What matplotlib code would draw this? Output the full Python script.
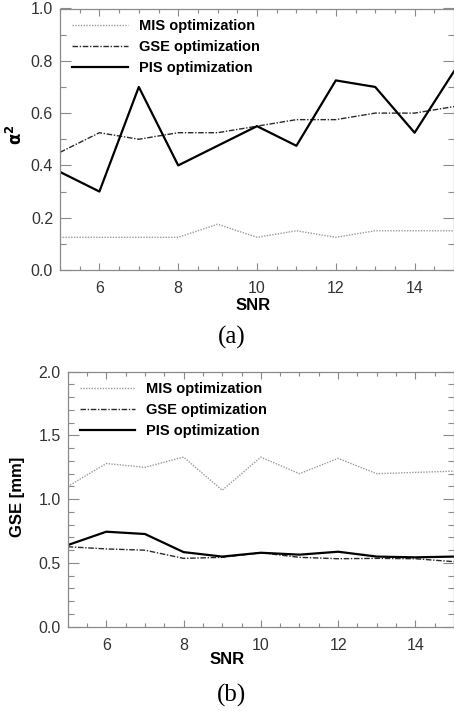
"""
Two-panel SNR comparison: alpha^2 and GSE vs SNR for three optimizations
"""

import matplotlib.pyplot as plt
import numpy as np
from matplotlib.ticker import MultipleLocator

plt.rcParams.update({
    'font.family': 'Liberation Sans',
    'font.size': 11.5,
    'figure.dpi': 100,
})

snr = [5, 6, 7, 8, 9, 10, 11, 12, 13, 14, 15]

# panel (a): alpha^2
mis_a = [0.125, 0.125, 0.125, 0.125, 0.175, 0.125, 0.15, 0.125, 0.15, 0.15, 0.15]
gse_a = [0.45, 0.525, 0.50, 0.525, 0.525, 0.55, 0.575, 0.575, 0.60, 0.60, 0.625]
pis_a = [0.375, 0.30, 0.70, 0.40, 0.475, 0.55, 0.475, 0.725, 0.70, 0.525, 0.76]

# panel (b): GSE [mm]
mis_b = [1.10, 1.28, 1.25, 1.33, 1.07, 1.33, 1.20, 1.32, 1.20, 1.21, 1.22]
gse_b = [0.627, 0.61, 0.60, 0.536, 0.544, 0.58, 0.544, 0.533, 0.536, 0.533, 0.51]
pis_b = [0.64, 0.745, 0.727, 0.585, 0.55, 0.58, 0.565, 0.588, 0.55, 0.544, 0.55]

labels = ['MIS optimization', 'GSE optimization', 'PIS optimization']
axis_gray = '#8a8a8a'
tick_gray = '#333333'

fig = plt.figure(figsize=(4.54, 7.11))
ax1 = fig.add_axes([60/454, 1 - 270/711, 394/454, 261.5/711])
ax2 = fig.add_axes([67.7/454, 1 - 626.7/711, 386.3/454, 255/711])


def draw(ax, mis, gse, pis, ylim, ymajor, yminor):
    ax.plot(snr, mis, color='#9a9a9a', linestyle=(0, (1, 1)), linewidth=1.0, label=labels[0])
    ax.plot(snr, gse, color='#2a2a2a', linestyle=(0, (4, 1.2, 1, 1.2)), linewidth=1.0, label=labels[1])
    ax.plot(snr, pis, color='black', linestyle='-', linewidth=1.6, label=labels[2])
    ax.set_xlim(5, 15)
    ax.set_ylim(*ylim)
    ax.xaxis.set_major_locator(MultipleLocator(2))
    ax.xaxis.set_minor_locator(MultipleLocator(0.5))
    ax.yaxis.set_major_locator(MultipleLocator(ymajor))
    ax.yaxis.set_minor_locator(MultipleLocator(yminor))
    ax.tick_params(axis='both', which='both', direction='in', top=True, right=True,
                   colors=axis_gray, labelcolor=tick_gray, labelsize=11.5, width=0.8)
    ax.tick_params(axis='x', which='major', length=5, pad=8)
    ax.tick_params(axis='x', which='minor', length=3)
    ax.tick_params(axis='y', which='major', length=8, pad=5)
    ax.tick_params(axis='y', which='minor', length=4)
    for sp in ax.spines.values():
        sp.set_color(axis_gray)
        sp.set_linewidth(0.9)
    ax.yaxis.set_major_formatter(plt.FuncFormatter(lambda v, p: f'{v:.1f}'))
    ax.legend(loc='upper left', bbox_to_anchor=(0.005, 1.0), frameon=False,
              prop={'weight': 'bold', 'size': 10.5}, handlelength=3.8,
              handletextpad=0.75, labelspacing=0.48, borderaxespad=0.3)


draw(ax1, mis_a, gse_a, pis_a, (0, 1.0), 0.2, 0.1)
draw(ax2, mis_b, gse_b, pis_b, (0, 2.0), 0.5, 0.1)

fig.text(15/454, 1 - 135/711, r'$\mathbf{\alpha^2}$', rotation=90, ha='center', va='center', fontsize=12)
fig.text(18/454, 1 - 497/711, 'GSE [mm]', rotation=90, ha='center', va='center',
         fontsize=12, fontweight='bold')
fig.text(253/454, 1 - 305/711, 'SNR', ha='center', va='center', fontsize=12, fontweight='bold')
fig.text(227/454, 1 - 660/711, 'SNR', ha='center', va='center', fontsize=12, fontweight='bold')
fig.text(232/454, 1 - 337/711, '(a)', ha='center', va='center', fontsize=18, family='Liberation Serif')
fig.text(232/454, 1 - 695/711, '(b)', ha='center', va='center', fontsize=18, family='Liberation Serif')

fig.savefig('out.png', dpi=100, facecolor='white')
plt.close()
